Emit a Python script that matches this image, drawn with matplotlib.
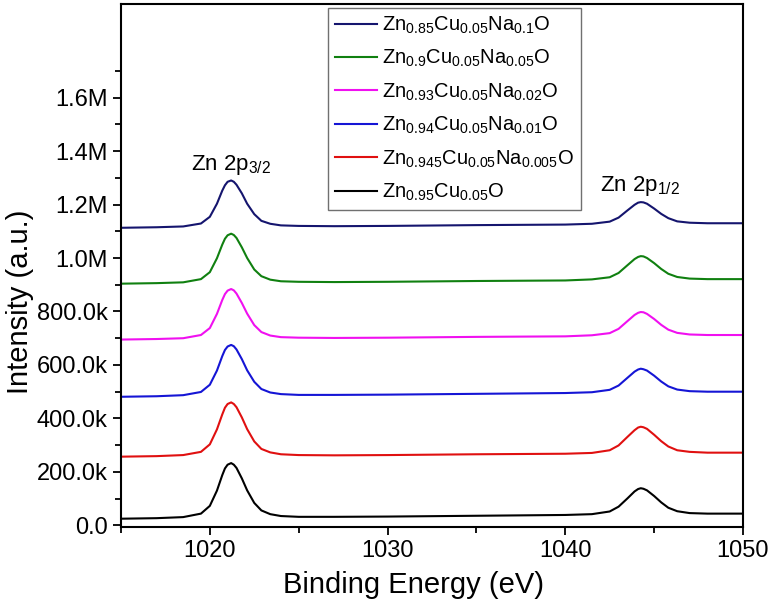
import matplotlib
matplotlib.use("Agg")
import matplotlib.pyplot as plt
from matplotlib.ticker import MultipleLocator, FixedLocator, FuncFormatter

plt.rcParams['font.family'] = ['Liberation Sans', 'DejaVu Sans']
plt.rcParams['mathtext.fontset'] = 'custom'
plt.rcParams['mathtext.rm'] = 'Liberation Sans'

# binding energy (eV), shared by all spectra
energy = [1015, 1017, 1018.5, 1019.5, 1020.0, 1020.4, 1020.7, 1020.85, 1021.0, 1021.2,
          1021.35, 1021.5, 1021.8, 1022.1, 1022.5, 1022.9, 1023.4, 1024.0, 1025.0, 1027.0,
          1030.0, 1035.0, 1040.0, 1041.5, 1042.5, 1043.0, 1043.5, 1043.9, 1044.1, 1044.25,
          1044.4, 1044.6, 1045.0, 1045.4, 1045.8, 1046.3, 1047.0, 1048.0, 1050.0]

# intensities in thousands of counts
na010 = [1113, 1115, 1118, 1129, 1154, 1203, 1252, 1272, 1285, 1290,
         1285, 1274, 1242, 1203, 1164, 1139, 1128, 1122, 1120, 1119,
         1120, 1123, 1125, 1128, 1136, 1151, 1178, 1199, 1207, 1209,
         1208, 1203, 1185, 1165, 1149, 1137, 1132, 1130, 1130]
na005 = [904, 906, 909, 921, 947, 999, 1050, 1072, 1085, 1091,
         1086, 1075, 1040, 1000, 957, 932, 919, 913, 911, 910,
         911, 914, 916, 920, 928, 944, 973, 996, 1004, 1007,
         1006, 1000, 981, 959, 941, 929, 923, 921, 921]
na002 = [695, 697, 700, 712, 738, 791, 843, 865, 878, 884,
         879, 867, 832, 792, 749, 723, 710, 704, 702, 701,
         702, 705, 707, 711, 719, 735, 764, 787, 795, 798,
         797, 791, 772, 750, 732, 720, 714, 712, 712]
na001 = [481, 483, 487, 499, 526, 579, 633, 656, 669, 675,
         670, 658, 622, 580, 537, 510, 497, 491, 488, 488,
         489, 492, 495, 498, 507, 523, 552, 575, 583, 586,
         584, 579, 560, 538, 520, 508, 502, 500, 500]
na0005 = [257, 259, 263, 275, 303, 359, 415, 440, 454, 460,
          454, 442, 404, 360, 314, 286, 273, 266, 263, 262,
          263, 266, 268, 271, 281, 299, 331, 356, 366, 369,
          367, 361, 339, 315, 295, 281, 275, 272, 272]
na000 = [25, 27, 31, 44, 73, 130, 188, 213, 227, 233,
         227, 215, 176, 131, 84, 56, 42, 35, 32, 32,
         33, 36, 39, 42, 52, 70, 101, 127, 136, 139,
         137, 131, 110, 86, 66, 53, 46, 44, 44]

labels = [
    r'Zn$_{\mathregular{0.85}}$Cu$_{\mathregular{0.05}}$Na$_{\mathregular{0.1}}$O',
    r'Zn$_{\mathregular{0.9}}$Cu$_{\mathregular{0.05}}$Na$_{\mathregular{0.05}}$O',
    r'Zn$_{\mathregular{0.93}}$Cu$_{\mathregular{0.05}}$Na$_{\mathregular{0.02}}$O',
    r'Zn$_{\mathregular{0.94}}$Cu$_{\mathregular{0.05}}$Na$_{\mathregular{0.01}}$O',
    r'Zn$_{\mathregular{0.945}}$Cu$_{\mathregular{0.05}}$Na$_{\mathregular{0.005}}$O',
    r'Zn$_{\mathregular{0.95}}$Cu$_{\mathregular{0.05}}$O',
]
colors = ['#15156e', '#108010', '#f010f0', '#1515d5', '#e01010', '#000000']
spectra = [na010, na005, na002, na001, na0005, na000]

fig = plt.figure(figsize=(7.74, 6.13), dpi=100)
ax = fig.add_axes([0.1563, 0.1403, 0.8036, 0.8532])

for ys, c, lab in zip(spectra, colors, labels):
    ax.plot(energy, [v * 1e3 for v in ys], color=c, lw=1.5, label=lab,
            solid_joinstyle='round')

ax.set_xlim(1015, 1050)
ax.set_ylim(-6000, 1.95e6)

ax.xaxis.set_major_locator(MultipleLocator(10))
ax.xaxis.set_minor_locator(MultipleLocator(5))
ax.yaxis.set_major_locator(FixedLocator([i * 2e5 for i in range(9)]))
ax.yaxis.set_minor_locator(FixedLocator([i * 1e5 for i in range(1, 18, 2)]))


def fmt(v, pos):
    if abs(v) < 1:
        return '0.0'
    if v < 1e6:
        return f'{v / 1e3:.1f}k'
    return f'{v / 1e6:.1f}M'


ax.yaxis.set_major_formatter(FuncFormatter(fmt))
ax.tick_params(which='both', direction='out', top=False, right=False, labelsize=17, width=1.3)
ax.tick_params(which='major', length=6)
ax.tick_params(which='minor', length=4)
for s in ax.spines.values():
    s.set_linewidth(1.5)

ax.set_xlabel('Binding Energy (eV)', fontsize=21)
ax.set_ylabel('Intensity (a.u.)', fontsize=21)
ax.xaxis.set_label_coords(0.47, -0.085)
ax.yaxis.set_label_coords(-0.14, 0.43)

ax.text(1021.2, 1.33e6, r'Zn 2p$_{\mathregular{3/2}}$', fontsize=16, ha='center', va='baseline')
ax.text(1044.2, 1.25e6, r'Zn 2p$_{\mathregular{1/2}}$', fontsize=16, ha='center', va='baseline')

leg = ax.legend(loc='upper left', bbox_to_anchor=(0.333, 0.993), borderaxespad=0,
                fontsize=14.5, handlelength=2.1, handletextpad=0.25, labelspacing=0.6,
                borderpad=0.35, frameon=True, fancybox=False, edgecolor='#707070',
                framealpha=1)
leg.get_frame().set_linewidth(1.0)

fig.savefig('out.png', dpi=100)
